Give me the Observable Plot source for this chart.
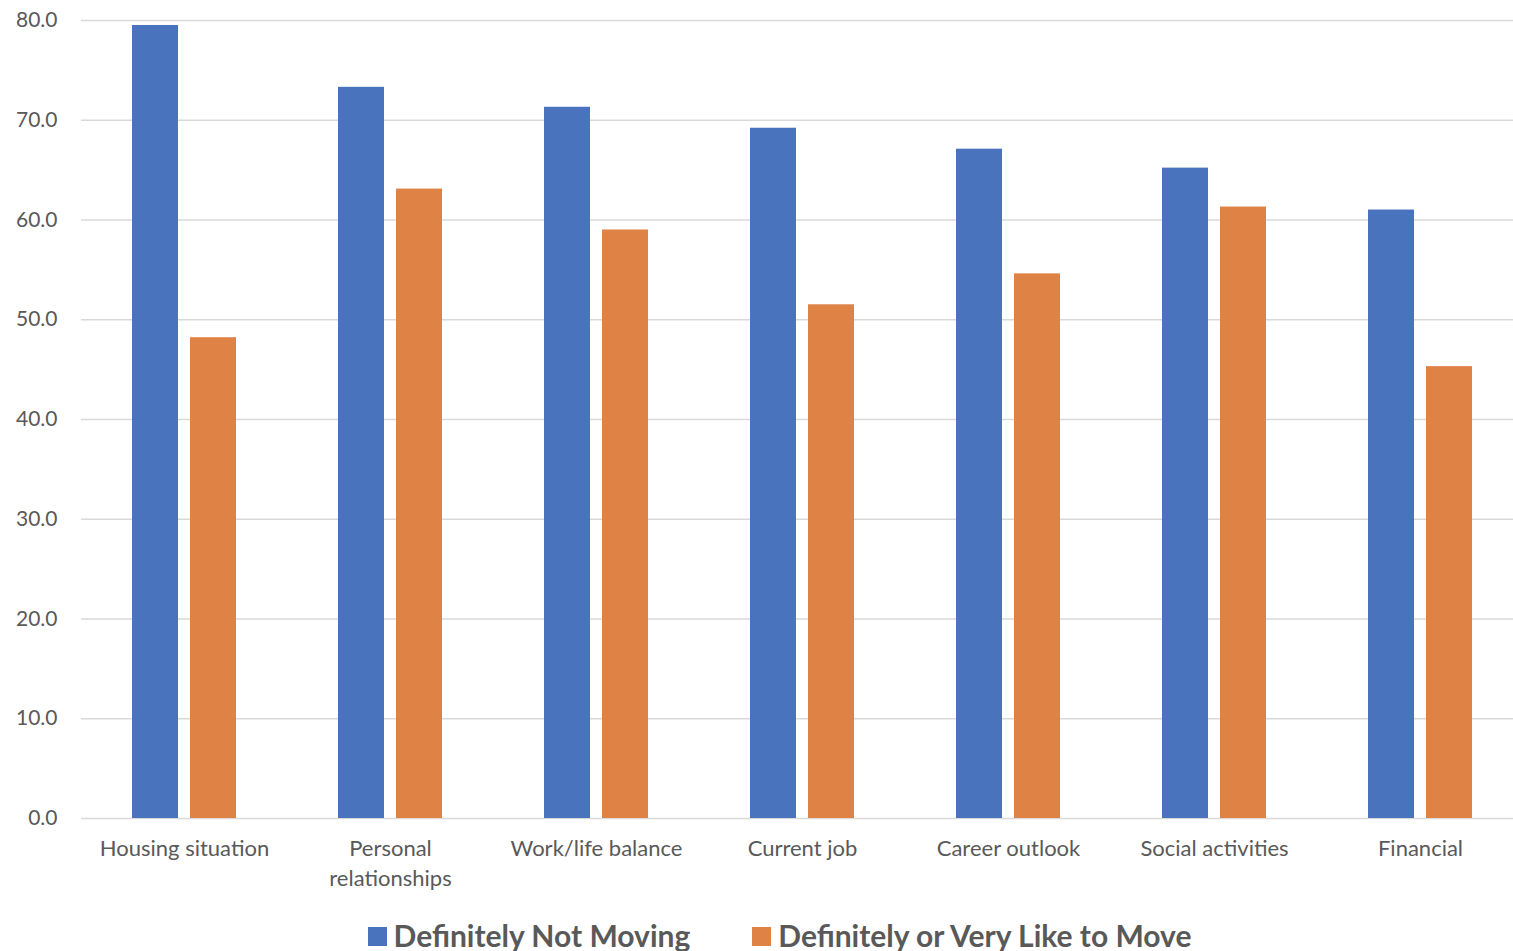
<!DOCTYPE html>
<html>
<head>
<meta charset="utf-8">
<script src="https://cdn.jsdelivr.net/npm/d3@7"></script>
<script src="https://cdn.jsdelivr.net/npm/@observablehq/plot@0.6"></script>
<style>
  html, body { margin: 0; padding: 0; background: #fff; overflow: hidden; width: 1513px; height: 951px; }
  #chart svg { display: block; max-width: none !important; }
  #legend {
    position: absolute; left: 0; top: 917px; width: 1513px;
    display: flex; justify-content: center; gap: 62px;
    font-family: Lato, "Open Sans", sans-serif; font-weight: bold;
    font-size: 30px; line-height: 36px; color: #595959; padding-left: 46px; box-sizing: border-box;
  }
  #legend .item { display: flex; align-items: center; gap: 7px; }
  #legend .sw { width: 19px; height: 19px; display: inline-block; margin-top: 3px; }
</style>
</head>
<body>
<div id="chart"></div>
<div id="legend"></div>
<script>
// Categories along the x axis
const categories = [
  "Housing situation",
  "Personal relationships",
  "Work/life balance",
  "Current job",
  "Career outlook",
  "Social activities",
  "Financial"
];
// Display labels (line breaks where the category wraps)
const categoryLabels = [
  "Housing situation",
  "Personal\nrelationships",
  "Work/life balance",
  "Current job",
  "Career outlook",
  "Social activities",
  "Financial"
];
const series = ["Definitely Not Moving", "Definitely or Very Like to Move"];
const notMoving = [79.5, 73.3, 71.3, 69.2, 67.1, 65.2, 61.0];
const likelyToMove = [48.2, 63.1, 59.0, 51.5, 54.6, 61.3, 45.3];
const yTicks = [0, 10, 20, 30, 40, 50, 60, 70, 80];
const colors = ["#4a73be", "#df8245"];

const data = categories.flatMap((c, i) => [
  {category: c, series: series[0], value: notMoving[i]},
  {category: c, series: series[1], value: likelyToMove[i]}
]);
const labelOf = new Map(categories.map((c, i) => [c, categoryLabels[i]]));

const plot = Plot.plot({
  width: 1524,
  height: 900,
  marginLeft: 79,
  marginRight: 0,
  marginTop: 20,
  marginBottom: 82,
  style: {fontFamily: "Lato, 'Open Sans', sans-serif", fontSize: "21px", color: "#595959", background: "#fff", overflow: "visible"},
  fx: {domain: categories, padding: 0, label: null},
  x: {domain: series, paddingInner: 0.2, paddingOuter: 0.85, axis: null},
  y: {domain: [0, 80], ticks: yTicks, label: null},
  color: {domain: series, range: colors},
  marks: [
    Plot.gridY(yTicks, {stroke: "#d9d9d9", strokeOpacity: 1, strokeWidth: 1.5}),
    Plot.axisY(yTicks, {tickSize: 0, tickPadding: 24, tickFormat: d3.format(".1f"), label: null, fill: "#595959", fontSize: 21}),
    Plot.axisFx({anchor: "bottom", tickSize: 0, tickPadding: 16, label: null, tickFormat: (d) => labelOf.get(d), lineHeight: 1.36, fill: "#595959", fontSize: 22}),
    Plot.barY(data, {fx: "category", x: "series", y: "value", fill: "series"})
  ]
});
document.getElementById("chart").appendChild(plot);

const legend = document.getElementById("legend");
series.forEach((s, i) => {
  const item = document.createElement("div");
  item.className = "item";
  const sw = document.createElement("span");
  sw.className = "sw";
  sw.style.background = colors[i];
  const t = document.createElement("span");
  t.textContent = s;
  item.appendChild(sw);
  item.appendChild(t);
  legend.appendChild(item);
});
</script>
</body>
</html>
